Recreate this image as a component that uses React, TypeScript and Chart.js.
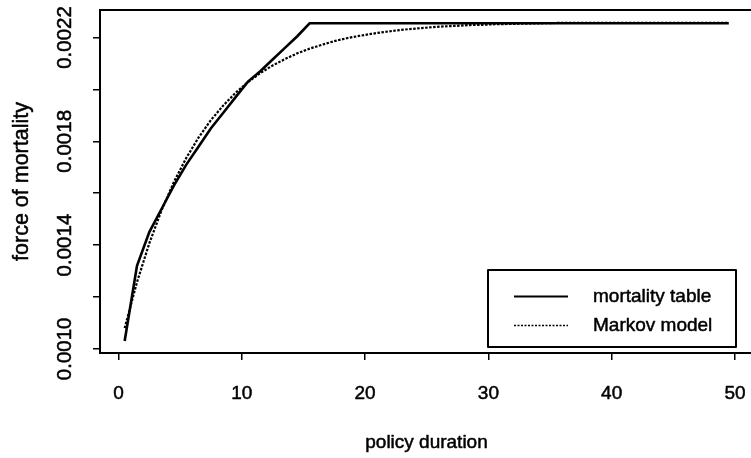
import React, { useEffect, useRef } from "react";
import { Chart, registerables } from "chart.js";

Chart.register(...registerables);

// ---- data ----
const durations = [
  0.5, 1.5, 2.5, 3.5, 4.5, 5.5, 6.5, 7.5, 8.5, 9.5,
  10.5, 11.5, 12.5, 13.5, 14.5, 15.5, 16.5, 17.5, 18.5, 19.5,
  20.5, 21.5, 22.5, 23.5, 24.5, 25.5, 26.5, 27.5, 28.5, 29.5,
  30.5, 31.5, 32.5, 33.5, 34.5, 35.5, 36.5, 37.5, 38.5, 39.5,
  40.5, 41.5, 42.5, 43.5, 44.5, 45.5, 46.5, 47.5, 48.5, 49.5,
];

const mortalityTable = [
  0.00103, 0.00132, 0.00145, 0.00154, 0.00163, 0.00171, 0.00178, 0.00185, 0.00191, 0.00197,
  0.00203, 0.00207, 0.002115, 0.00216, 0.002205, 0.002255, 0.002255, 0.002255, 0.002255, 0.002255,
  0.002255, 0.002255, 0.002255, 0.002255, 0.002255, 0.002255, 0.002255, 0.002255, 0.002255, 0.002255,
  0.002255, 0.002255, 0.002255, 0.002255, 0.002255, 0.002255, 0.002255, 0.002255, 0.002255, 0.002255,
  0.002255, 0.002255, 0.002255, 0.002255, 0.002255, 0.002255, 0.002255, 0.002255, 0.002255, 0.002255,
];

const markovModel = [
  0.00108, 0.001257, 0.001407, 0.001535, 0.001644, 0.001736, 0.001815, 0.001882, 0.001938, 0.001987,
  0.002028, 0.002063, 0.002092, 0.002117, 0.002139, 0.002157, 0.002172, 0.002186, 0.002197, 0.002206,
  0.002214, 0.002221, 0.002227, 0.002232, 0.002236, 0.00224, 0.002243, 0.002245, 0.002248, 0.002249,
  0.002251, 0.002252, 0.002253, 0.002254, 0.002255, 0.002256, 0.002256, 0.002256, 0.002256, 0.002256,
  0.002256, 0.002256, 0.002256, 0.002256, 0.002256, 0.002256, 0.002256, 0.002256, 0.002256, 0.002256,
];

const seriesLabels = ["mortality table", "Markov model"];

const xTicks = [0, 10, 20, 30, 40, 50];
const xTickLabels = ["0", "10", "20", "30", "40", "50"];
const yTicks = [0.001, 0.0012, 0.0014, 0.0016, 0.0018, 0.002, 0.0022];
const yTickLabels = ["0.0010", "", "0.0014", "", "0.0018", "", "0.0022"];

const xTitle = "policy duration";
const yTitle = "force of mortality";

const FONT = '"Liberation Sans", Arial, Helvetica, sans-serif';

function heavyText(ctx: CanvasRenderingContext2D, s: string, x: number, y: number) {
  ctx.fillText(s, x, y);
  ctx.strokeText(s, x, y);
}

const textPlugin = {
  id: "rstyle",
  afterDraw(chart: any) {
    const ctx = chart.ctx as CanvasRenderingContext2D;
    const area = chart.chartArea;
    const xs = chart.scales.x;
    const ys = chart.scales.y;
    ctx.save();
    ctx.fillStyle = "#000";
    ctx.strokeStyle = "#000";

    // box (right edge is outside the picture)
    ctx.lineWidth = 2;
    ctx.beginPath();
    ctx.moveTo(chart.width, area.top);
    ctx.lineTo(area.left, area.top);
    ctx.lineTo(area.left, area.bottom);
    ctx.lineTo(chart.width, area.bottom);
    ctx.stroke();

    ctx.lineWidth = 0.5;
    ctx.lineJoin = "round";

    // x tick labels
    ctx.font = `19px ${FONT}`;
    ctx.textAlign = "center";
    ctx.textBaseline = "alphabetic";
    xTicks.forEach((v, i) => {
      heavyText(ctx, xTickLabels[i], xs.getPixelForValue(v), 399);
    });

    // y tick labels (rotated)
    ctx.font = `20.5px ${FONT}`;
    yTicks.forEach((v, i) => {
      const lab = yTickLabels[i];
      if (!lab) return;
      ctx.save();
      ctx.translate(71, ys.getPixelForValue(v));
      ctx.rotate(-Math.PI / 2);
      heavyText(ctx, lab, 0, 0);
      ctx.restore();
    });

    // axis titles
    ctx.font = `19px ${FONT}`;
    heavyText(ctx, xTitle, (area.left + 753) / 2, 448);
    ctx.font = `21.5px ${FONT}`;
    ctx.save();
    ctx.translate(28, (area.top + area.bottom) / 2);
    ctx.rotate(-Math.PI / 2);
    heavyText(ctx, yTitle, 0, 0);
    ctx.restore();

    // legend
    const lx = 488, ly = 270, lw = 248, lh = 77;
    ctx.fillStyle = "#fff";
    ctx.fillRect(lx, ly, lw, lh);
    ctx.lineWidth = 2;
    ctx.strokeRect(lx, ly, lw, lh);
    ctx.fillStyle = "#000";
    ctx.font = `19px ${FONT}`;
    const rows = [296.5, 325.5];
    chart.data.datasets.forEach((ds: any, i: number) => {
      const y = rows[i];
      ctx.save();
      ctx.lineWidth = i === 0 ? 2 : 1.5;
      ctx.setLineDash(i === 0 ? [] : [2, 1.5]);
      ctx.beginPath();
      ctx.moveTo(514, y);
      ctx.lineTo(568, y);
      ctx.stroke();
      ctx.restore();
      ctx.textAlign = "left";
      ctx.lineWidth = 0.5;
      heavyText(ctx, ds.label, 593, y + 5.5);
    });
    ctx.restore();
  },
};

export default function App() {
  const ref = useRef<HTMLCanvasElement | null>(null);

  useEffect(() => {
    if (!ref.current) return;
    const chart = new Chart(ref.current, {
      type: "line",
      data: {
        datasets: [
          {
            label: seriesLabels[0],
            data: durations.map((d, i) => ({ x: d, y: mortalityTable[i] })),
            borderColor: "#000",
            borderWidth: 2.6,
            pointRadius: 0,
            tension: 0,
          },
          {
            label: seriesLabels[1],
            data: durations.map((d, i) => ({ x: d, y: markovModel[i] })),
            borderColor: "#000",
            borderWidth: 2.2,
            borderDash: [2.5, 1.5],
            pointRadius: 0,
            tension: 0,
          },
        ],
      },
      options: {
        responsive: false,
        animation: false,
        devicePixelRatio: 1,
        layout: { padding: { top: 10, right: 0, left: 0, bottom: 0 } },
        plugins: { legend: { display: false }, tooltip: { enabled: false } },
        scales: {
          x: {
            type: "linear",
            min: -1.5,
            max: 51.3,
            afterBuildTicks: (s: any) => {
              s.ticks = xTicks.map((v) => ({ value: v }));
            },
            afterFit: (s: any) => {
              s.height = 105;
            },
            grid: { drawOnChartArea: false, drawTicks: true, tickLength: 7, color: "#000", lineWidth: 1.5 },
            border: { display: false },
            ticks: { display: false },
          },
          y: {
            type: "linear",
            min: 0.000984,
            max: 0.002306,
            afterBuildTicks: (s: any) => {
              s.ticks = yTicks.map((v) => ({ value: v }));
            },
            afterFit: (s: any) => {
              s.width = 100;
            },
            grid: { drawOnChartArea: false, drawTicks: true, tickLength: 7, color: "#000", lineWidth: 1.5 },
            border: { display: false },
            ticks: { display: false },
          },
        },
      },
      plugins: [textPlugin],
    });
    return () => chart.destroy();
  }, []);

  return (
    <div style={{ position: "absolute", left: 0, top: 0, width: 751, height: 458, background: "#fff" }}>
      <canvas ref={ref} width={751} height={458} style={{ width: 751, height: 458, display: "block" }} />
    </div>
  );
}
